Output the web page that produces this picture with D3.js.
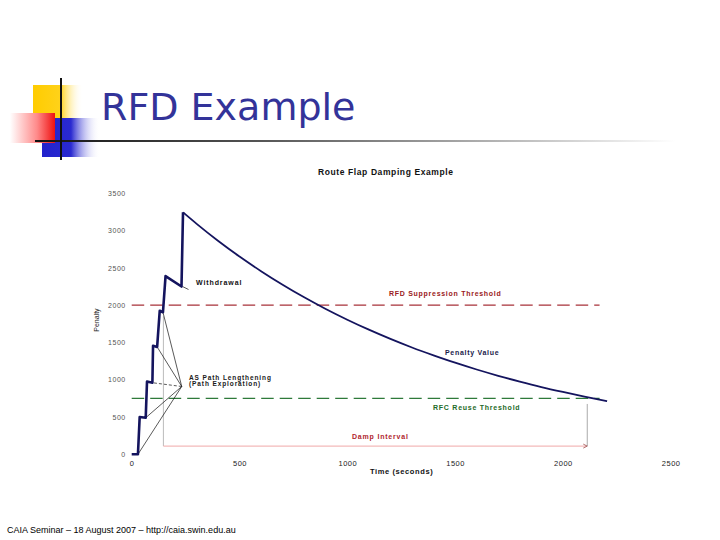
<!DOCTYPE html>
<html>
<head>
<meta charset="utf-8">
<script src="https://cdn.jsdelivr.net/npm/d3@7"></script>
<style>
html,body{margin:0;padding:0;background:#fff;}
svg{display:block;}
</style>
</head>
<body>
<svg id="c" width="720" height="540"></svg>
<script>
// ---- data ----
const timeSec = [0, 29, 37, 65, 71, 96, 99, 118, 130, 145, 157, 231, 238,
  300, 400, 500, 600, 700, 800, 900, 1000, 1100, 1200, 1300, 1400, 1500,
  1600, 1700, 1800, 1900, 2000, 2100, 2205];
const penalty = [0, 0, 500, 490, 975, 960, 1455, 1440, 1925, 1905, 2390, 2250, 3245,
  3094, 2864, 2652, 2456, 2274, 2105, 1949, 1805, 1671, 1547, 1432, 1327, 1228,
  1137, 1053, 975, 902, 836, 774, 713];
const xTicks = [0, 500, 1000, 1500, 2000, 2500];
const yTicks = [0, 500, 1000, 1500, 2000, 2500, 3000, 3500];
const suppressThreshold = 2000;
const reuseThreshold = 750;
const thresholdEnd = 2170;
const dampStart = 147, dampEnd = 2113;
// flap points annotated as "AS Path Lengthening"
const flapTimes = [29, 65, 96, 118, 145];
const flapValues = [0, 490, 960, 1440, 1905];
const flapAnchor = [232, 909];
const withdrawalPoint = [231, 2250];

const svg = d3.select("#c");

// ---- slide decoration ----
const defs = svg.append("defs");
const gY = defs.append("linearGradient").attr("id","gy");
gY.append("stop").attr("offset","0").attr("stop-color","#ffcc00");
gY.append("stop").attr("offset","0.55").attr("stop-color","#ffd21a");
gY.append("stop").attr("offset","1").attr("stop-color","#fff").attr("stop-opacity",0);
const gR = defs.append("linearGradient").attr("id","gr");
gR.append("stop").attr("offset","0").attr("stop-color","#ffffff");
gR.append("stop").attr("offset","0.6").attr("stop-color","#ff8a8a");
gR.append("stop").attr("offset","1").attr("stop-color","#ee1111");
const gB = defs.append("linearGradient").attr("id","gb");
gB.append("stop").attr("offset","0").attr("stop-color","#2222cc");
gB.append("stop").attr("offset","0.5").attr("stop-color","#2a2ad0");
gB.append("stop").attr("offset","1").attr("stop-color","#ffffff").attr("stop-opacity",0);
const gL = defs.append("linearGradient").attr("id","gl");
gL.append("stop").attr("offset","0").attr("stop-color","#111");
gL.append("stop").attr("offset","0.35").attr("stop-color","#555");
gL.append("stop").attr("offset","0.75").attr("stop-color","#bbb");
gL.append("stop").attr("offset","1").attr("stop-color","#fff");

svg.append("rect").attr("x",33).attr("y",85).attr("width",50).attr("height",35).attr("fill","url(#gy)");
svg.append("rect").attr("x",42).attr("y",118).attr("width",58).attr("height",39).attr("fill","url(#gb)");
svg.append("rect").attr("x",10).attr("y",113).attr("width",45).attr("height",30).attr("fill","url(#gr)");
svg.append("rect").attr("x",35).attr("y",140).attr("width",640).attr("height",2).attr("fill","url(#gl)");
svg.append("rect").attr("x",60).attr("y",78).attr("width",2).attr("height",82).attr("fill","#111");

svg.append("text").attr("x",101).attr("y",120)
  .attr("font-family","DejaVu Sans, Verdana, sans-serif").attr("font-size",38)
  .attr("fill","#333399").text("RFD Example");

svg.append("text").attr("x",7).attr("y",533)
  .attr("font-family","Liberation Sans, Arial, sans-serif").attr("font-size",9)
  .attr("fill","#000").text("CAIA Seminar – 18 August 2007 – http://caia.swin.edu.au");

// ---- chart ----
const x = d3.scaleLinear().domain([0, 2500]).range([131.7, 670.7]);
const y = d3.scaleLinear().domain([0, 3500]).range([454.3, 193.3]);
const F = "Liberation Sans, Arial, sans-serif";

function label(tx, ty, txt, color, size, ls){
  return svg.append("text").attr("x",tx).attr("y",ty).attr("font-family",F)
    .attr("font-weight","bold").attr("font-size",size).attr("letter-spacing",ls)
    .attr("fill",color).text(txt);
}

label(318, 175, "Route Flap Damping Example", "#111", 8.5, 0.6);

// axes (labels only, no lines)
const xAxis = svg.append("g").attr("transform",`translate(0,${y(0)})`)
  .call(d3.axisBottom(x).tickValues(xTicks).tickSize(0).tickPadding(6).tickFormat(d3.format("d")));
xAxis.select(".domain").remove();
xAxis.selectAll("text").attr("font-family",F).attr("font-size",7.5).attr("letter-spacing",0.5).attr("fill","#222");

const yAxis = svg.append("g").attr("transform",`translate(${x(0)-6},0)`)
  .call(d3.axisLeft(y).tickValues(yTicks).tickSize(0).tickPadding(0).tickFormat(d3.format("d")));
yAxis.select(".domain").remove();
yAxis.selectAll("text").attr("font-family",F).attr("font-size",7).attr("letter-spacing",0.5).attr("fill","#555");

svg.append("text").attr("transform",`translate(99,${y(1800)}) rotate(-90)`)
  .attr("text-anchor","middle").attr("font-family",F).attr("font-size",7).attr("fill","#222").text("Penalty");
label(370, 474, "Time (seconds)", "#111", 7.5, 0.6);

// thresholds
svg.append("line").attr("x1",x(0)).attr("x2",x(thresholdEnd))
  .attr("y1",y(suppressThreshold)).attr("y2",y(suppressThreshold))
  .attr("stroke","#a8323a").attr("stroke-width",1.2).attr("stroke-dasharray","12.5,6");
svg.append("line").attr("x1",x(0)).attr("x2",x(thresholdEnd))
  .attr("y1",y(reuseThreshold)).attr("y2",y(reuseThreshold))
  .attr("stroke","#2e7a3a").attr("stroke-width",1.2).attr("stroke-dasharray","12.5,6");

label(389, 296, "RFD Suppression Threshold", "#9a1a22", 7, 0.72);
label(433, 410, "RFC Reuse Threshold", "#1e6a28", 7, 0.75);
label(445, 354.5, "Penalty Value", "#1a1a4a", 7, 0.7);

// damp interval
svg.append("line").attr("x1",x(dampStart)).attr("x2",x(dampStart))
  .attr("y1",y(1850)).attr("y2",y(110)).attr("stroke","#bbb").attr("stroke-width",1);
svg.append("line").attr("x1",x(dampEnd)).attr("x2",x(dampEnd))
  .attr("y1",y(675)).attr("y2",y(110)).attr("stroke","#aaa").attr("stroke-width",1);
svg.append("line").attr("x1",x(dampStart)).attr("x2",x(dampEnd)-1)
  .attr("y1",y(110)).attr("y2",y(110)).attr("stroke","#f0a8a8").attr("stroke-width",1);
svg.append("path").attr("d",`M${x(dampEnd)-4},${y(110)-2} L${x(dampEnd)},${y(110)} L${x(dampEnd)-4},${y(110)+2}`)
  .attr("fill","none").attr("stroke","#a05050").attr("stroke-width",0.8);
label(352, 439, "Damp Interval", "#b0262e", 7, 0.8);

// annotation leaders
flapTimes.forEach((t,i)=>{
  svg.append("line").attr("x1",x(flapAnchor[0])).attr("y1",y(flapAnchor[1]))
    .attr("x2",x(t)).attr("y2",y(flapValues[i]))
    .attr("stroke","#111").attr("stroke-width",0.7)
    .attr("stroke-dasharray", i===2 ? "3,2" : null);
});
svg.append("text").attr("font-family",F).attr("font-weight","bold").attr("font-size",6.5)
  .attr("letter-spacing",0.9).attr("fill","#1a1a1a")
  .selectAll("tspan").data(["AS Path Lengthening","(Path Exploration)"]).join("tspan")
  .attr("x",189).attr("y",(d,i)=>380+i*6).text(d=>d);

svg.append("line").attr("x1",x(withdrawalPoint[0])+1).attr("y1",y(withdrawalPoint[1]))
  .attr("x2",x(withdrawalPoint[0])+7).attr("y2",y(withdrawalPoint[1])+3)
  .attr("stroke","#111").attr("stroke-width",0.7);
label(196, 284.5, "Withdrawal", "#111", 7, 0.9);

// penalty curve
const pts = timeSec.map((t,i)=>[t, penalty[i]]);
const stepPart = pts.slice(0, 13), decayPart = pts.slice(12);
const line = d3.line().x(d=>x(d[0])).y(d=>y(d[1]));
svg.append("path").attr("d",line(stepPart)).attr("fill","none")
  .attr("stroke","#14145e").attr("stroke-width",2.6).attr("stroke-linejoin","round");
svg.append("path").attr("d",d3.line().curve(d3.curveMonotoneX).x(d=>x(d[0])).y(d=>y(d[1]))(decayPart))
  .attr("fill","none").attr("stroke","#14145e").attr("stroke-width",1.8);
</script>
</body>
</html>
